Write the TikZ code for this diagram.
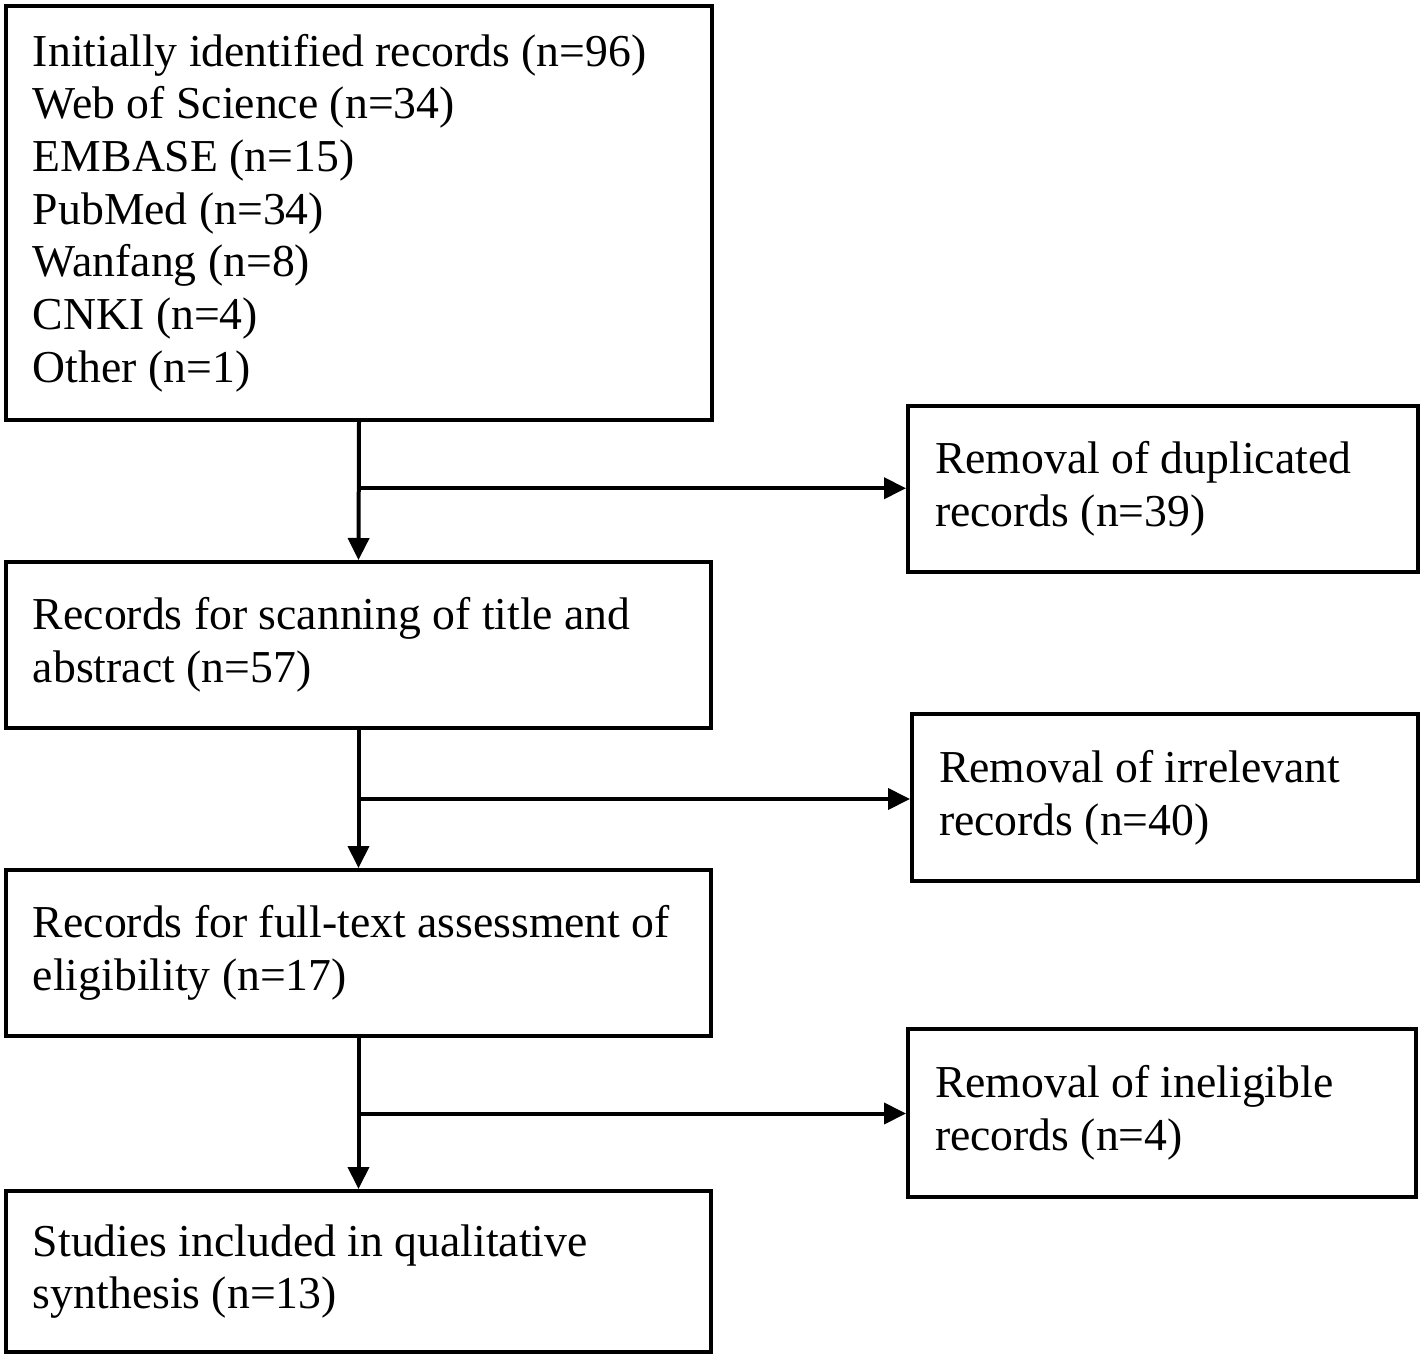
\documentclass[tikz,border=0pt]{standalone}
\usepackage{fontspec}
\setmainfont{Liberation Serif}
\usepackage{tikz}
\usetikzlibrary{calc,arrows.meta}

\tikzset{
    stage/.style={
        rectangle,
        draw,
        line width=0.04cm,
        anchor=north west,
        inner xsep=0.27cm,
        align=flush left,
        font=\fontsize{13pt}{15pt}\selectfont,
    },
    flow/.style={
        line width=0.04cm,
        -{Triangle[length=0.22cm,width=0.21cm]},
    },
}

\begin{document}
\begin{tikzpicture}

    \useasboundingbox (0,0) rectangle (14.2,-13.54);

    \node
        [ stage,
            minimum width=7.06cm,
            minimum height=4.14cm,
            text width=6.52cm,
        ] (identified) at (0.04,-0.04) {Initially identified records (n=96)\\
        Web of Science (n=34)\\ EMBASE (n=15)\\ PubMed (n=34)\\
        Wanfang (n=8)\\ CNKI (n=4)\\ Other (n=1)};

    \node
        [ stage,
            minimum width=7.05cm,
            minimum height=1.66cm,
            text width=6.51cm,
        ] (screening) at (0.04,-5.60) {Records for scanning of title and\\ abstract (n=57)};

    \node
        [ stage,
            minimum width=7.05cm,
            minimum height=1.66cm,
            text width=6.51cm,
        ] (fulltext) at (0.04,-8.68) {Records for full-text assessment of\\ eligibility (n=17)};

    \node
        [ stage,
            minimum width=7.05cm,
            minimum height=1.61cm,
            text width=6.51cm,
        ] (included) at (0.04,-11.89) {Studies included in qualitative\\ synthesis (n=13)};

    \node
        [ stage,
            minimum width=5.10cm,
            minimum height=1.66cm,
            text width=4.56cm,
        ] (duplicates) at (9.06,-4.04) {Removal of duplicated\\ records (n=39)};

    \node
        [ stage,
            minimum width=5.06cm,
            minimum height=1.67cm,
            text width=4.52cm,
        ] (irrelevant) at (9.10,-7.12) {Removal of irrelevant\\ records (n=40)};

    \node
        [ stage,
            minimum width=5.08cm,
            minimum height=1.68cm,
            text width=4.54cm,
        ] (ineligible) at (9.06,-10.27) {Removal of ineligible\\ records (n=4)};

    \coordinate (split1) at ($(identified.south)!0.48!(screening.north)$);
    \coordinate (split2) at ($(screening.south)!0.5!(fulltext.north)$);
    \coordinate (split3) at ($(fulltext.south)!0.5!(included.north)$);

    \draw[flow] (identified.south) -- (screening.north);
    \draw[flow] (screening.south) -- (fulltext.north);
    \draw[flow] (fulltext.south) -- (included.north);

    \draw[flow] (split1) -- (split1 -| duplicates.west);
    \draw[flow] (split2) -- (split2 -| irrelevant.west);
    \draw[flow] (split3) -- (split3 -| ineligible.west);

\end{tikzpicture}
\end{document}
